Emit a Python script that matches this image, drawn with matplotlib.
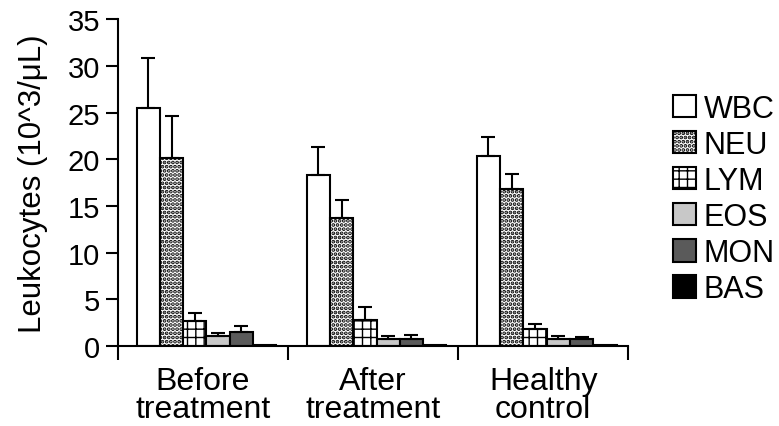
import numpy as np
import matplotlib.pyplot as plt
from matplotlib.patches import Patch

plt.rcParams['font.family'] = ['Liberation Sans', 'DejaVu Sans']
plt.rcParams['hatch.linewidth'] = 1.0

groups = ["Before\ntreatment", "After\ntreatment", "Healthy\ncontrol"]
cells = ["WBC", "NEU", "LYM", "EOS", "MON", "BAS"]

# mean values per cell type for each group
means = {
    "WBC": [25.5, 18.3, 20.3],
    "NEU": [20.1, 13.7, 16.8],
    "LYM": [2.7, 2.8, 1.8],
    "EOS": [1.1, 0.8, 0.8],
    "MON": [1.5, 0.8, 0.8],
    "BAS": [0.15, 0.15, 0.15],
}
errs = {
    "WBC": [5.3, 3.0, 2.1],
    "NEU": [4.5, 1.9, 1.6],
    "LYM": [0.8, 1.4, 0.6],
    "EOS": [0.3, 0.3, 0.3],
    "MON": [0.7, 0.4, 0.2],
    "BAS": [0.0, 0.0, 0.0],
}

styles = {
    "WBC": dict(facecolor="white", hatch=None, hlw=1.0),
    "NEU": dict(facecolor="white", hatch="....", hlw=1.9),
    "LYM": dict(facecolor="white", hatch="++", hlw=1.0),
    "EOS": dict(facecolor="#c8c8c8", hatch=None, hlw=1.0),
    "MON": dict(facecolor="#5a5a5a", hatch=None, hlw=1.0),
    "BAS": dict(facecolor="black", hatch=None, hlw=1.0),
}


def set_hlw(p, lw):
    if hasattr(p, "set_hatch_linewidth"):
        p.set_hatch_linewidth(lw)
    else:
        p._hatch_linewidth = lw


fig = plt.figure(figsize=(7.79, 4.27), dpi=100)
ax = fig.add_axes([0.1515, 0.187, 0.655, 0.766])

x = np.arange(len(groups))
w = 0.137
handles = []
for i, c in enumerate(cells):
    pos = x + (i - 2.5) * w + 0.02
    st = styles[c]
    bars = ax.bar(pos, means[c], w, color=st["facecolor"], hatch=st["hatch"],
                  edgecolor="black", linewidth=1.5, zorder=2)
    for b in bars:
        set_hlw(b, st["hlw"])
    if c != "BAS":
        ax.errorbar(pos, means[c], yerr=[np.zeros(3), errs[c]], fmt="none",
                    ecolor="black", elinewidth=1.5, capsize=5, capthick=1.5, zorder=3)
    handles.append(Patch(facecolor=st["facecolor"], hatch=st["hatch"],
                         edgecolor="black", linewidth=1.5, label=c))

ax.set_xlim(-0.5, 2.5)
ax.set_ylim(0, 35)
ax.set_yticks(range(0, 36, 5))
ax.set_xticks(x)
ax.set_xticklabels(groups, fontsize=23, linespacing=0.95)
ax.set_xticks([-0.5, 0.5, 1.5, 2.5], minor=True)
ax.tick_params(axis="x", which="major", length=0, pad=14)
ax.tick_params(axis="x", which="minor", length=10, width=1.5, direction="out")
ax.tick_params(axis="y", labelsize=21, length=9, width=1.5, direction="out", pad=4)
ax.set_ylabel("Leukocytes (10^3/μL)", fontsize=22.5, labelpad=14)
for s in ["top", "right"]:
    ax.spines[s].set_visible(False)
for s in ["left", "bottom"]:
    ax.spines[s].set_linewidth(1.5)

leg = fig.legend(handles=handles, loc="center left", bbox_to_anchor=(0.864, 0.532),
                 frameon=False, fontsize=22, handlelength=0.75, handleheight=0.75,
                 handletextpad=0.25, labelspacing=0.2, borderaxespad=0, borderpad=0)
for h, c in zip(leg.legend_handles, cells):
    set_hlw(h, styles[c]["hlw"])

fig.savefig("out.png", dpi=100)
